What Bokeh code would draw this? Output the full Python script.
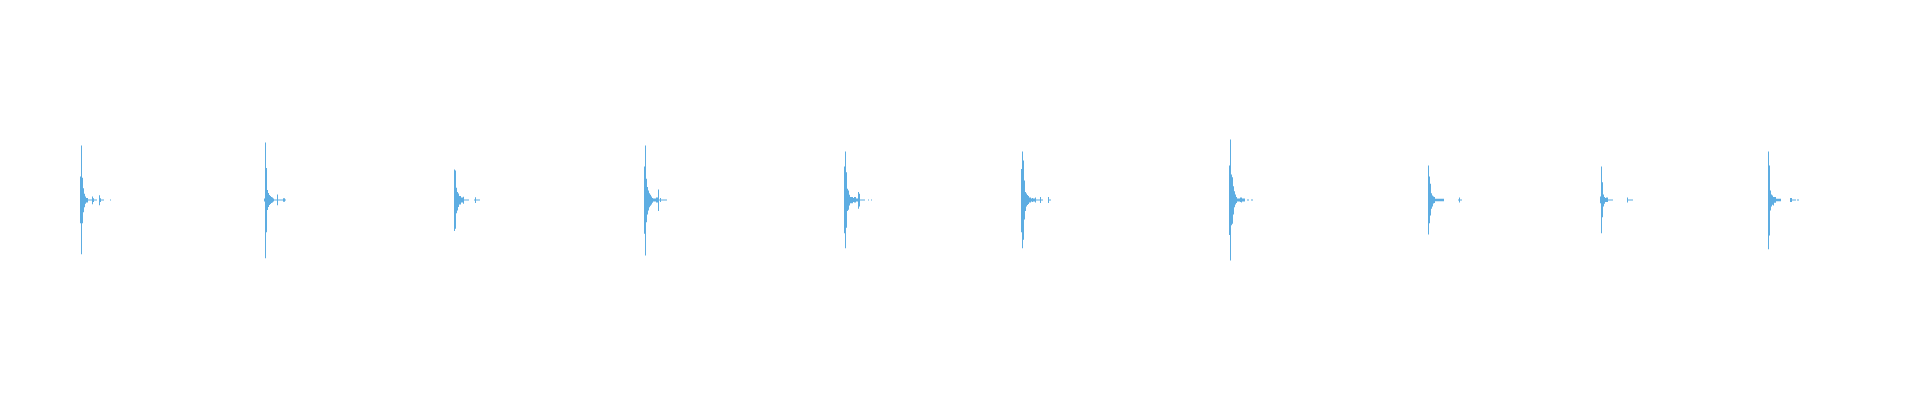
import numpy as np
from bokeh.plotting import figure
from bokeh.models import Range1d, ColumnDataSource
from bokeh.embed import file_html
from bokeh.resources import INLINE

# Waveform peaks (percent of full scale), one entry per frame column.
# Each hit: onset frame, positive envelope, negative envelope magnitude.
onsets = [72, 256, 446, 636, 836, 1013, 1221, 1420, 1592, 1760]

upper = [
    [12.2, 28.4, 11.6, 6.1, 3.2, 1.8, 1.1, 1.1, 0.3, 0.3, 0.3, 0.3, 1.8, 0.9, 0.3, 0.3, 0.3, 0, 0,
     2.5, 0.9, 0.3, 0.3, 0.3, 0, 0, 0, 0, 0, 0, 0.3],
    [0.8, 29.9, 16.6, 5.2, 3.6, 2.6, 2.1, 1.6, 1.3, 0.8, 0.3, 0.3, 0.3, 2.9, 0.3, 0.3, 0.3, 0.3,
     0.3, 0.9, 0.9, 0.3],
    [15.9, 15.4, 6.4, 4.1, 3.4, 2.1, 2.1, 1.3, 1.3, 1.7, 0.3, 0.3, 0.3, 0.3, 0.3, 0, 0, 0, 0, 0,
     0.3, 1.4, 0.3, 0.3, 0.3, 0.3],
    [17.4, 28.4, 11.0, 6.7, 4.9, 3.5, 2.7, 1.8, 1.1, 0.8, 0.8, 0.8, 1.3, 1.3, 5.5, 0.3, 1.0, 0.3,
     0.3, 0.3, 0.3, 0.3, 0.3],
    [17.4, 25.3, 14.5, 5.8, 4.9, 2.7, 1.5, 1.5, 1.5, 1.0, 1.5, 1.5, 0.8, 0.8, 4.1, 3.2, 0.3, 0.3,
     0.3, 0.3, 0.3, 0, 0, 0, 0.3, 0, 0, 0.3],
    [16.2, 25.3, 20.6, 10.2, 4.1, 3.4, 2.6, 2.1, 1.3, 1.3, 0.8, 1.0, 0.8, 0.8, 1.3, 0.3, 0.3, 0.3,
     0.3, 1.6, 0.3, 0.3, 0, 0, 0, 0, 0, 1.6, 0.3, 0.3],
    [18.0, 31.5, 13.3, 11.9, 7.2, 4.6, 2.9, 1.6, 0.8, 0.8, 0.8, 1.3, 1.3, 0.8, 0.8, 0.8, 0, 0,
     0.3, 0.3, 0, 0, 0.3, 0.3],
    [18.0, 12.2, 8.4, 3.5, 2.3, 1.8, 1.6, 0.6, 0.6, 0.6, 0.6, 0.6, 0.6, 0.6, 0.6, 0.6, 0, 0, 0,
     0, 0, 0, 0, 0, 0, 0, 0, 0, 0, 0, 0.3, 1.3, 0.3, 0.3],
    [1.8, 17.4, 9.3, 2.9, 1.5, 1.0, 1.3, 1.3, 0.3, 0.3, 0.3, 0.3, 0.3, 0, 0, 0, 0, 0, 0, 0, 0, 0,
     0, 0, 0, 0, 0, 1.3, 0.3, 0.3, 0.3, 0.3, 0.3],
    [25.3, 18.0, 4.9, 2.9, 2.3, 1.5, 1.6, 1.6, 0.7, 0.7, 0.7, 0.7, 0.7, 0, 0, 0, 0, 0, 0, 0, 0, 0,
     1.1, 1.1, 0.3, 0.3, 0.3, 0.3, 0, 0.3, 0.3],
]

lower = [
    [12.1, 28.2, 12.1, 6.4, 3.75, 2.0, 1.3, 1.3, 0.3, 0.3, 0.3, 0.3, 2.2, 1.0, 0.3, 0.3, 0.3, 0, 0,
     2.7, 1.1, 0.3, 0.3, 0.3, 0, 0, 0, 0, 0, 0, 0.3],
    [0.8, 30.3, 16.8, 5.2, 3.6, 2.6, 2.1, 1.6, 1.3, 0.8, 0.3, 0.3, 0.3, 2.7, 0.3, 0.3, 0.3, 0.3,
     0.3, 0.9, 0.9, 0.3],
    [16.2, 15.0, 6.9, 5.5, 3.7, 2.3, 2.3, 1.3, 1.3, 2.0, 0.3, 0.3, 0.3, 0.3, 0.3, 0, 0, 0, 0, 0,
     0.3, 1.6, 0.3, 0.3, 0.3, 0.3],
    [17.6, 28.9, 11.6, 7.6, 5.5, 3.75, 3.0, 2.3, 1.5, 0.8, 0.8, 0.8, 1.3, 1.3, 5.8, 0.3, 1.0, 0.3,
     0.3, 0.3, 0.3, 0.3, 0.3],
    [17.3, 25.1, 14.5, 5.8, 5.1, 2.9, 1.7, 1.7, 1.7, 1.0, 1.3, 1.3, 0.8, 0.8, 4.6, 3.4, 0.3, 0.3,
     0.3, 0.3, 0.3, 0, 0, 0, 0.3, 0, 0, 0.3],
    [16.8, 25.1, 20.7, 10.2, 5.8, 3.4, 2.6, 2.1, 1.3, 1.3, 0.8, 1.0, 0.8, 0.8, 1.3, 0.3, 0.3, 0.3,
     0.3, 1.6, 0.3, 0.3, 0, 0, 0, 0, 0, 1.6, 0.3, 0.3],
    [18.3, 31.5, 13.1, 12.4, 7.6, 3.75, 2.3, 1.6, 0.8, 0.8, 0.8, 1.0, 1.3, 0.8, 0.8, 0.8, 0, 0,
     0.3, 0.3, 0, 0, 0.3, 0.3],
    [18.0, 12.1, 8.1, 4.6, 3.4, 1.8, 1.6, 0.6, 0.6, 0.6, 0.6, 0.6, 0.6, 0.6, 0.6, 0.6, 0, 0, 0,
     0, 0, 0, 0, 0, 0, 0, 0, 0, 0, 0, 0.3, 1.3, 0.3, 0.3],
    [1.7, 17.3, 9.0, 3.4, 2.0, 1.0, 1.0, 1.0, 0.3, 0.3, 0.3, 0.3, 0.3, 0, 0, 0, 0, 0, 0, 0, 0, 0,
     0, 0, 0, 0, 0, 1.3, 0.3, 0.3, 0.3, 0.3, 0.3],
    [25.6, 18.5, 5.5, 3.4, 2.5, 2.9, 1.5, 1.5, 0.7, 0.7, 0.7, 0.7, 0.7, 0, 0, 0, 0, 0, 0, 0, 0, 0,
     1.1, 1.1, 0.3, 0.3, 0.3, 0.3, 0, 0.3, 0.3],
]

wave_color = "#5DADE2"

xs, tops, bottoms = [], [], []
for onset, up, dn in zip(onsets, upper, lower):
    for i, (u, d) in enumerate(zip(up, dn)):
        if u == 0 and d == 0:
            continue
        xs.append(onset + i)
        tops.append(u)
        bottoms.append(-d)

xs = np.array(xs, dtype=float)
src = ColumnDataSource(dict(left=xs - 0.5, right=xs + 0.5, top=tops, bottom=bottoms))

p = figure(width=1904, height=384, x_range=Range1d(-8, 1896), y_range=Range1d(-96.1, 103.9),
           toolbar_location=None, output_backend="svg", min_border=0,
           x_axis_location=None, y_axis_location=None)
p.outline_line_color = None
p.xgrid.visible = False
p.ygrid.visible = False
p.background_fill_color = "white"
p.border_fill_color = "white"

p.quad(left="left", right="right", top="top", bottom="bottom", source=src,
       fill_color=wave_color, line_color=None)

open("out.html", "w").write(file_html(p, INLINE))
